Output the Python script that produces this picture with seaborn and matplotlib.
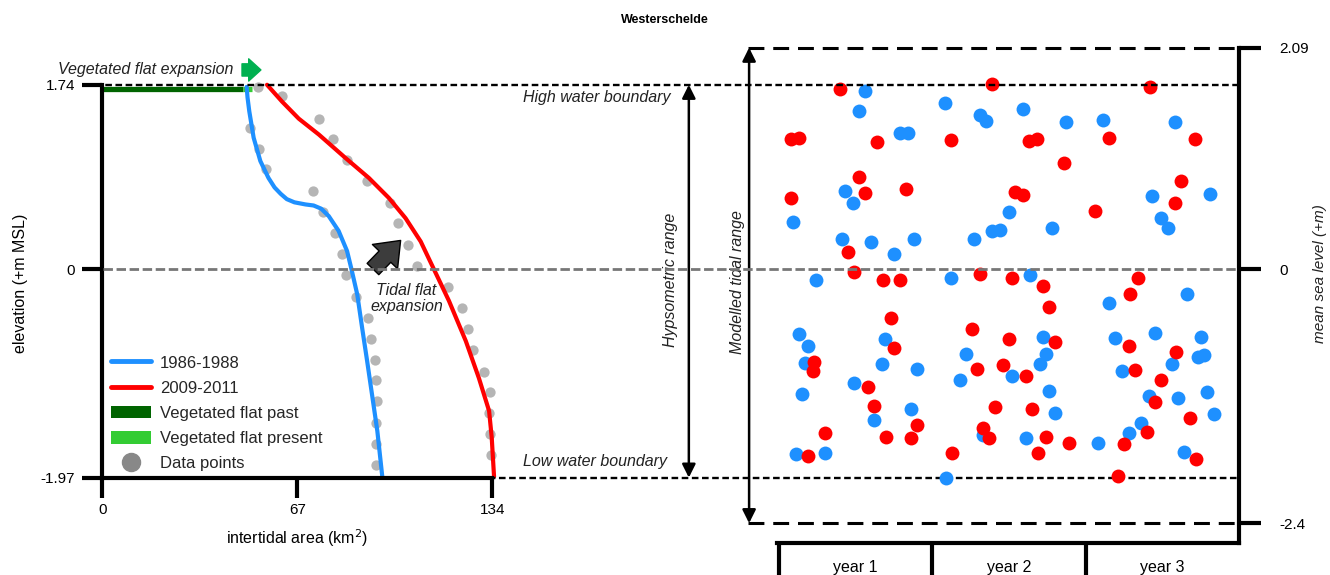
import matplotlib
matplotlib.use("Agg")
import matplotlib.pyplot as plt
import matplotlib.transforms as mtransforms
from matplotlib.lines import Line2D
from matplotlib.patches import Patch
import seaborn as sns

# ---------------- data ----------------
HIGH_WATER = 1.74
LOW_WATER = -1.97
TIDE_MAX = 2.09
TIDE_MIN = -2.4
AREA_TICKS = [0, 67, 134]
YEAR_LABELS = ["year 1", "year 2", "year 3"]

# hypsometric curves (intertidal area km2 vs elevation m MSL)
elev_1986 = [1.72, 1.62, 1.49, 1.24, 1.02, 0.86, 0.77, 0.71, 0.66, 0.63, 0.61, 0.60,
             0.57, 0.50, 0.36, 0.17, 0.00, -0.24, -0.56, -0.87, -1.19, -1.53, -1.96]
area_1986 = [49.6, 49.9, 50.5, 52.0, 54.3, 57.1, 59.2, 61.3, 63.4, 66.0, 69.8, 72.6,
             75.2, 77.8, 81.2, 84.1, 85.6, 87.6, 89.3, 91.0, 92.7, 94.5, 96.2]
elev_2009 = [1.74, 1.58, 1.42, 1.27, 1.05, 0.86, 0.67, 0.48, 0.26, 0.00, -0.30,
             -0.68, -1.03, -1.34, -1.59, -1.96]
area_2009 = [56.6, 61.8, 67.5, 74.4, 83.5, 91.6, 98.5, 104.2, 109.4, 113.9, 119.1,
             124.9, 129.4, 132.9, 133.8, 134.6]

# measured data points
pts_area_1986 = [53.5, 50.8, 53.7, 56.4, 72.3, 75.7, 80.1, 82.4, 83.9, 87.2, 91.4,
                 92.2, 93.6, 94.2, 94.5, 94.2, 93.9, 94.1]
pts_elev_1986 = [1.72, 1.33, 1.13, 0.94, 0.74, 0.54, 0.34, 0.14, -0.06, -0.26, -0.46,
                 -0.66, -0.86, -1.05, -1.25, -1.45, -1.65, -1.85]
pts_area_2009 = [61.8, 74.4, 79.3, 84.1, 91.0, 98.7, 101.7, 105.1, 108.2, 118.9, 123.5,
                 125.8, 127.2, 131.2, 133.1, 132.8, 133.2, 133.5]
pts_elev_2009 = [1.63, 1.42, 1.23, 1.03, 0.83, 0.62, 0.43, 0.23, 0.03, -0.17, -0.37,
                 -0.57, -0.76, -0.97, -1.16, -1.36, -1.56, -1.76]

# vegetated flat extent (km2)
veg_past = [0, 48.4]
veg_present = [48.4, 51.5]
VEG_LEVEL = 1.70

# modelled water levels over three years
year_blue = [0.56, 0.52, 1.08, 1.31, 1.35, 0.79, 0.84, 1.59, 1.87, 2.11, 2.58, 0.43,
             0.48, 0.09, 1.50, 2.43, 2.81, 2.49, 2.54, 1.78, 1.39, 1.44, 0.41, 0.60,
             0.75, 0.88, 1.27, 0.24, 1.12, 1.64, 2.15, 2.66, 0.13, 0.19, 0.17, 0.15,
             0.69, 0.67, 0.90, 0.49, 0.62, 0.86, 1.22, 1.18, 1.33, 0.11, 0.30, 1.09,
             1.72, 1.74, 1.70, 1.52, 1.76, 1.80, 1.61, 2.19, 2.24, 2.45, 2.75, 2.73,
             2.77, 2.56, 2.41, 2.60, 2.79, 2.84, 2.36, 2.28, 2.08, 2.64]
level_blue = [1.68, 1.49, 1.57, 1.45, 1.40, 1.28, 1.28, 1.51, 1.39, 1.41, 1.39, 0.74,
              0.62, 0.44, 0.54, 0.69, 0.71, 0.48, 0.39, 0.39, 0.36, 0.37, 0.28, 0.26,
              0.14, 0.28, 0.28, -0.10, -0.08, -0.06, -0.32, -0.24, -0.61, -0.73, -0.89,
              -1.18, -0.66, -0.90, -0.94, -1.08, -1.43, -1.32, -0.80, -1.05, -1.57,
              -1.75, -1.74, -1.97, -0.64, -0.80, -0.90, -1.01, -1.15, -1.36, -1.60,
              -0.65, -0.96, -0.60, -0.64, -0.83, -0.81, -0.90, -1.20, -1.22, -1.16,
              -1.37, -1.45, -1.55, -1.64, -1.73]
year_red = [0.40, 1.39, 2.42, 0.08, 0.13, 0.64, 1.12, 1.63, 1.68, 2.15, 2.71, 1.86,
            0.52, 0.08, 0.56, 0.83, 1.54, 1.59, 2.62, 2.58, 2.06, 0.45, 0.49, 0.68,
            0.79, 1.31, 1.52, 1.72, 2.34, 1.76, 2.29, 0.73, 1.26, 0.23, 0.22, 0.75,
            1.29, 1.46, 1.50, 1.80, 1.61, 2.28, 2.32, 2.59, 2.49, 0.58, 0.62, 1.41,
            1.65, 2.45, 2.68, 0.90, 0.30, 0.70, 0.86, 1.33, 1.37, 1.74, 1.89, 2.40,
            2.25, 0.19, 1.13, 1.69, 2.72, 2.21]
level_red = [1.70, 1.75, 1.72, 1.23, 1.24, 1.20, 1.22, 1.21, 1.23, 1.24, 1.23, 1.00,
             0.87, 0.67, 0.72, 0.76, 0.73, 0.70, 0.83, 0.62, 0.55, 0.16, -0.03, -0.10,
             -0.10, -0.05, -0.08, -0.16, -0.08, -0.36, -0.24, -0.46, -0.57, -0.88,
             -0.96, -0.75, -0.94, -0.91, -0.66, -0.69, -1.01, -0.73, -0.95, -0.78,
             -1.05, -1.11, -1.29, -1.30, -1.32, -1.26, -1.41, -1.47, -1.55, -1.59,
             -1.60, -1.50, -1.60, -1.59, -1.64, -1.54, -1.65, -1.77, -1.74, -1.74,
             -1.79, -1.95]

# ---------------- style ----------------
BLUE = "#1E90FF"
RED = "#FF0000"
DKGREEN = "#006400"
LTGREEN = "#33CC33"
GRAY_PT = "#b5b5b5"

sns.set_theme(style="white")
plt.rcParams["font.family"] = ["Liberation Sans", "DejaVu Sans"]

fig = plt.figure(figsize=(13.3, 5.75), dpi=100)
W, H = 1330.0, 575.0
y_top_px, y_bot_px = 47.7, 523.2
bottom = (H - y_bot_px) / H
height = (y_bot_px - y_top_px) / H
ax1 = fig.add_axes([102.3 / W, bottom, 390.0 / W, height])
ax2 = fig.add_axes([779.0 / W, bottom, 460.0 / W, height])
for ax in (ax1, ax2):
    ax.set_facecolor("none")
    ax.set_ylim(TIDE_MIN, TIDE_MAX)

# ---------------- left panel ----------------
ax1.set_xlim(0, 134)
sns.scatterplot(x=pts_area_1986, y=pts_elev_1986, color=GRAY_PT, s=55, linewidth=0,
                ax=ax1, zorder=2, clip_on=False)
sns.scatterplot(x=pts_area_2009, y=pts_elev_2009, color=GRAY_PT, s=55, linewidth=0,
                ax=ax1, zorder=2, clip_on=False)
ax1.plot(veg_past, [VEG_LEVEL, VEG_LEVEL], color=DKGREEN, lw=3.8,
         solid_capstyle="butt", zorder=3)
ax1.plot(veg_present, [VEG_LEVEL, VEG_LEVEL], color=LTGREEN, lw=3.8,
         solid_capstyle="butt", zorder=3)
sns.lineplot(x=area_1986, y=elev_1986, sort=False, estimator=None, color=BLUE,
             lw=3, ax=ax1, zorder=4)
sns.lineplot(x=area_2009, y=elev_2009, sort=False, estimator=None, color=RED,
             lw=3, ax=ax1, zorder=4)
for ln in ax1.lines:
    ln.set_clip_on(False)
    ln.set_solid_joinstyle("round")

for side in ("top", "right"):
    ax1.spines[side].set_visible(False)
ax1.spines["left"].set_bounds(LOW_WATER, HIGH_WATER)
ax1.spines["bottom"].set_position(("data", LOW_WATER))
ax1.spines["bottom"].set_bounds(0, 134)
for side in ("left", "bottom"):
    ax1.spines[side].set_linewidth(3)
    ax1.spines[side].set_color("black")
    ax1.spines[side].set_zorder(5)
ax1.set_yticks([LOW_WATER, 0, HIGH_WATER])
ax1.set_yticklabels(["-1.97", "0", "1.74"])
ax1.set_xticks(AREA_TICKS)
ax1.set_xticklabels([str(v) for v in AREA_TICKS])
ax1.tick_params(axis="both", direction="out", length=14.4, width=3, color="black",
                labelsize=11, labelcolor="black")
ax1.tick_params(axis="y", pad=5, left=True)
ax1.tick_params(axis="x", pad=4, bottom=True)
ax1.set_xlabel("intertidal area (km$^2$)", fontsize=11.5, color="black")
ax1.xaxis.set_label_coords(0.5, -0.008)
ax1.set_ylabel("elevation (+m MSL)", fontsize=11.5, color="black")
ax1.yaxis.set_label_coords(-0.19, 0.505)

handles = [Line2D([], [], color=BLUE, lw=3.5),
           Line2D([], [], color=RED, lw=3.5),
           Patch(facecolor=DKGREEN, edgecolor="none"),
           Patch(facecolor=LTGREEN, edgecolor="none"),
           Line2D([], [], marker="o", ls="", color="#888888", markersize=13)]
labels = ["1986-1988", "2009-2011", "Vegetated flat past", "Vegetated flat present",
          "Data points"]
ax1.legend(handles, labels, loc="upper left", bbox_to_anchor=(0.022, 0.353),
           frameon=False, fontsize=12, handlelength=2.4, handletextpad=0.55,
           labelspacing=0.6, handleheight=0.8, borderpad=0, borderaxespad=0)

ax1.text(-15.2, 1.88, "Vegetated flat expansion", style="italic", fontsize=11.5,
         ha="left", va="center", color="#222222")
ax1.annotate("", xy=(54.5, 1.88), xytext=(48.0, 1.88),
             arrowprops=dict(arrowstyle="simple,head_length=0.55,head_width=1.0,tail_width=0.55",
                             mutation_scale=16, color="#00B050", shrinkA=0, shrinkB=0),
             annotation_clip=False)
ax1.annotate("", xy=(102.5, 0.27), xytext=(93.0, 0.0),
             arrowprops=dict(arrowstyle="simple,head_length=0.9,head_width=1.4,tail_width=0.65",
                             mutation_scale=18, fc="#3c3c3c", ec="black", lw=1,
                             shrinkA=0, shrinkB=0),
             annotation_clip=False)
ax1.text(104.5, -0.28, "Tidal flat\nexpansion", style="italic", fontsize=11.5,
         ha="center", va="center", linespacing=1.1, color="#222222")

# ---------------- right panel ----------------
ax2.set_xlim(0, 3)
sns.scatterplot(x=year_blue, y=level_blue, color=BLUE, s=100, linewidth=0, ax=ax2,
                zorder=3, clip_on=False)
sns.scatterplot(x=year_red, y=level_red, color=RED, s=100, linewidth=0, ax=ax2,
                zorder=4, clip_on=False)

trans = mtransforms.blended_transform_factory(ax2.transAxes, ax2.transData)

# reference lines spanning both panels
ax2.axhline(HIGH_WATER, xmin=-1.509, xmax=1.0, color="black", lw=1.7,
            ls=(0, (2.8, 1.5)), clip_on=False, zorder=6)
ax2.axhline(LOW_WATER, xmin=-1.47, xmax=1.0, color="black", lw=1.7,
            ls=(0, (2.8, 1.5)), clip_on=False, zorder=1)
ax2.axhline(0, xmin=-1.47, xmax=1.0, color="#777777", lw=2.0,
            ls=(0, (3.4, 1.3)), clip_on=False, zorder=6)
ax2.axhline(TIDE_MAX, xmin=-0.067, xmax=1.0, color="black", lw=2.2,
            ls=(0, (5.2, 2.9)), clip_on=False, zorder=6)
ax2.axhline(TIDE_MIN, xmin=-0.067, xmax=1.0, color="black", lw=2.2,
            ls=(0, (5.2, 2.9)), clip_on=False, zorder=6)

# range arrows
ax2.annotate("", xy=(-0.196, LOW_WATER), xytext=(-0.196, HIGH_WATER),
             xycoords=trans, textcoords=trans,
             arrowprops=dict(arrowstyle="<|-|>", color="black", lw=1.8,
                             mutation_scale=20, shrinkA=0, shrinkB=0),
             annotation_clip=False)
ax2.annotate("", xy=(-0.065, TIDE_MIN), xytext=(-0.065, TIDE_MAX),
             xycoords=trans, textcoords=trans,
             arrowprops=dict(arrowstyle="<|-|>", color="black", lw=1.8,
                             mutation_scale=20, shrinkA=0, shrinkB=0),
             annotation_clip=False)
ax2.text(-0.235, -0.10, "Hypsometric range", transform=trans, rotation=90,
         style="italic", fontsize=11.5, ha="center", va="center", color="#222222")
ax2.text(-0.091, -0.12, "Modelled tidal range", transform=trans, rotation=90,
         style="italic", fontsize=11.5, ha="center", va="center", color="#222222")
ax2.text(-0.235, 1.62, "High water boundary", transform=trans, style="italic",
         fontsize=11.5, ha="right", va="center", color="#222222")
ax2.text(-0.243, -1.82, "Low water boundary", transform=trans, style="italic",
         fontsize=11.5, ha="right", va="center", color="#222222")

for side in ("top", "left"):
    ax2.spines[side].set_visible(False)
ax2.spines["right"].set_bounds(-2.591, TIDE_MAX)
ax2.spines["bottom"].set_position(("outward", 14.4))
ax2.spines["bottom"].set_bounds(-0.012, 3)
for side in ("right", "bottom"):
    ax2.spines[side].set_linewidth(3)
    ax2.spines[side].set_color("black")
    ax2.spines[side].set_zorder(7)

ax2.yaxis.tick_right()
ax2.set_yticks([TIDE_MIN, 0, TIDE_MAX])
ax2.set_yticklabels(["-2.4", "0", "2.09"])
ax2.tick_params(axis="y", direction="out", length=16, width=3, color="black",
                labelsize=11, labelcolor="black", pad=13, right=True, left=False)
ax2.set_xticks([0, 1, 2])
ax2.set_xticklabels(["", "", ""])
ax2.set_xticks([0.5, 1.5, 2.5], minor=True)
ax2.set_xticklabels(YEAR_LABELS, minor=True)
ax2.tick_params(axis="x", which="major", direction="out", length=24, width=3,
                color="black", bottom=True)
ax2.tick_params(axis="x", which="minor", length=0, pad=12, labelsize=11.5,
                labelcolor="black", bottom=True)
ax2.set_xlabel("")
ax2.set_ylabel("")
ax2.text(1.176, 0.524, "mean sea level (+m)", transform=ax2.transAxes, rotation=90,
         style="italic", fontsize=11, ha="center", va="center", color="#222222")

fig.text(0.5, 1 - 20 / H, "Westerschelde", ha="center", va="center", fontsize=9,
         fontweight="bold", color="black")

fig.savefig("out.png", dpi=100)
